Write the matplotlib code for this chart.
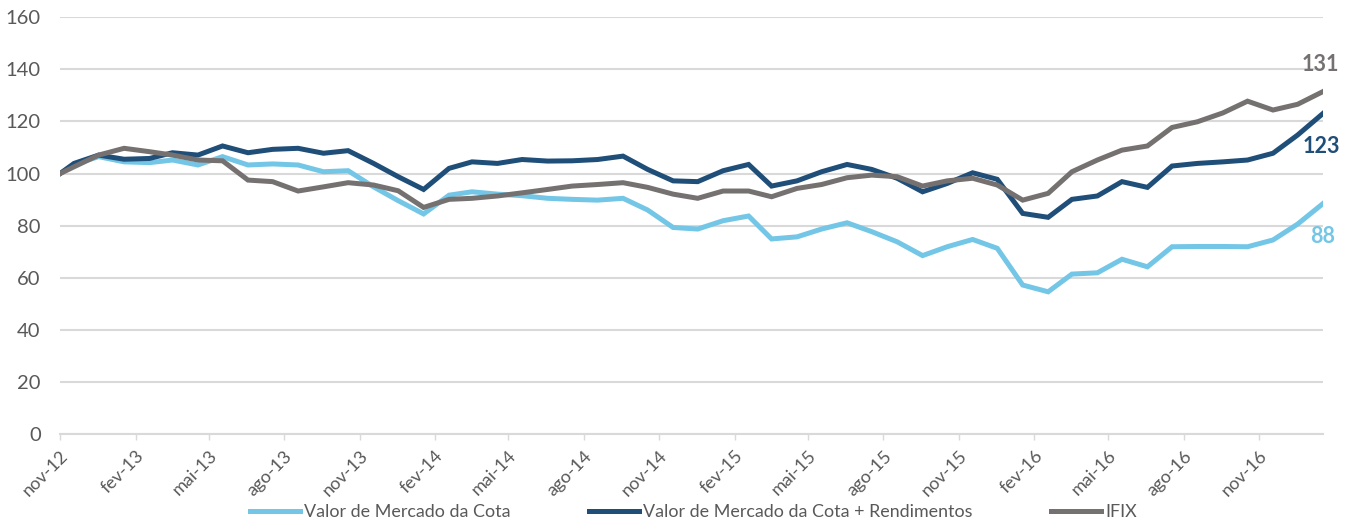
import matplotlib
matplotlib.use('Agg')
import matplotlib.pyplot as plt
import matplotlib.dates as mdates
import pandas as pd

# monthly points: base date + mid-month observations nov-12 .. jan-17
dates = [pd.Timestamp("2012-11-01")] + list(pd.date_range("2012-11-01", "2017-01-01", freq="MS") + pd.Timedelta(days=17))

cota = [100, 103.5, 106.5, 104.5, 104.2, 105.2, 103.3, 106.5, 103.3, 103.7,
        103.3, 100.7, 101.1, 94.9, 89.6, 84.5, 91.7, 93.0, 92.1, 91.5,
        90.5, 90.1, 89.8, 90.5, 86.0, 79.3, 78.7, 81.9, 83.7, 74.9,
        75.7, 78.7, 81.1, 77.7, 73.8, 68.5, 71.9, 74.7, 71.3, 57.2,
        54.6, 61.4, 61.9, 67.1, 64.2, 71.9, 72.0, 72.0, 71.9, 74.5,
        80.6, 88.5]
cota_rend = [100, 103.9, 107.1, 105.5, 105.8, 108.0, 107.1, 110.6, 108.0, 109.3,
             109.7, 107.8, 108.8, 103.9, 98.8, 93.9, 102.0, 104.5, 103.9, 105.4,
             104.8, 104.9, 105.4, 106.7, 101.6, 97.2, 96.9, 101.1, 103.5, 95.2,
             97.2, 100.7, 103.5, 101.6, 98.2, 93.0, 96.2, 100.3, 97.8, 84.7,
             83.2, 90.1, 91.4, 96.9, 94.7, 102.9, 103.9, 104.5, 105.2, 107.8,
             114.8, 123.1]
ifix = [100, 102.6, 107.1, 109.7, 108.4, 107.1, 105.2, 104.9, 97.5, 96.9,
        93.3, 94.9, 96.5, 95.6, 93.4, 87.0, 90.1, 90.5, 91.4, 92.6,
        93.9, 95.2, 95.8, 96.5, 94.7, 92.1, 90.5, 93.3, 93.3, 91.1,
        94.3, 95.8, 98.4, 99.4, 98.8, 95.2, 97.2, 98.2, 95.6, 89.8,
        92.4, 100.7, 105.2, 109.0, 110.6, 117.7, 119.9, 123.3, 127.8, 124.4,
        126.6, 131.5]

labels = ["Valor de Mercado da Cota", "Valor de Mercado da Cota + Rendimentos", "IFIX"]
colors = ["#74C6E6", "#1F4E79", "#767171"]
end_labels = ["88", "123", "131"]
end_offsets = [(0, -24), (-1, -24), (-2, 19.5)]

meses = {11: "nov", 2: "fev", 5: "mai", 8: "ago"}

plt.rcParams['font.family'] = ['Lato', 'DejaVu Sans']

fig = plt.figure(figsize=(13.56, 5.2), dpi=100)
ax = fig.add_axes([0.0443, 0.1654, 0.9314, 0.8013])

series = [cota, cota_rend, ifix]
for vals, lab, col in zip(series, labels, colors):
    ax.plot(dates, vals, color=col, lw=3.6, label=lab, solid_joinstyle='miter')

for vals, txt, col, off in zip(series, end_labels, colors, end_offsets):
    ax.annotate(txt, xy=(dates[-1], vals[-1]), xytext=off, textcoords='offset points',
                ha='center', va='center', color=col, fontsize=15.5, fontweight='bold',
                annotation_clip=False)

ax.set_ylim(0, 160)
ax.set_yticks(range(0, 161, 20))
ax.set_xlim(dates[0], dates[-1])

ax.xaxis.set_major_locator(mdates.MonthLocator(bymonth=[11, 2, 5, 8]))
ax.xaxis.set_major_formatter(plt.FuncFormatter(
    lambda v, p: "%s-%s" % (meses[mdates.num2date(v).month], mdates.num2date(v).strftime("%y"))))

ax.grid(axis='y', color='#d9d9d9', lw=1.5)
ax.set_axisbelow(True)
for s in ['top', 'right', 'left']:
    ax.spines[s].set_visible(False)
ax.spines['bottom'].set_color('#d9d9d9')
ax.spines['bottom'].set_linewidth(1.5)

ax.tick_params(axis='y', length=0, pad=14, labelsize=14.5, labelcolor='#595959')
ax.tick_params(axis='x', length=4, width=1, color='#d9d9d9', labelsize=13, labelcolor='#595959', pad=6)
plt.setp(ax.get_xticklabels(), rotation=45, ha='right', rotation_mode='anchor')

fig.legend(loc='lower center', bbox_to_anchor=(0.5114, -0.031), ncol=3, frameon=False,
           fontsize=12.9, handlelength=2.8, columnspacing=4.4, handletextpad=0.2,
           labelcolor='#595959')

fig.savefig("out.png", dpi=100)
